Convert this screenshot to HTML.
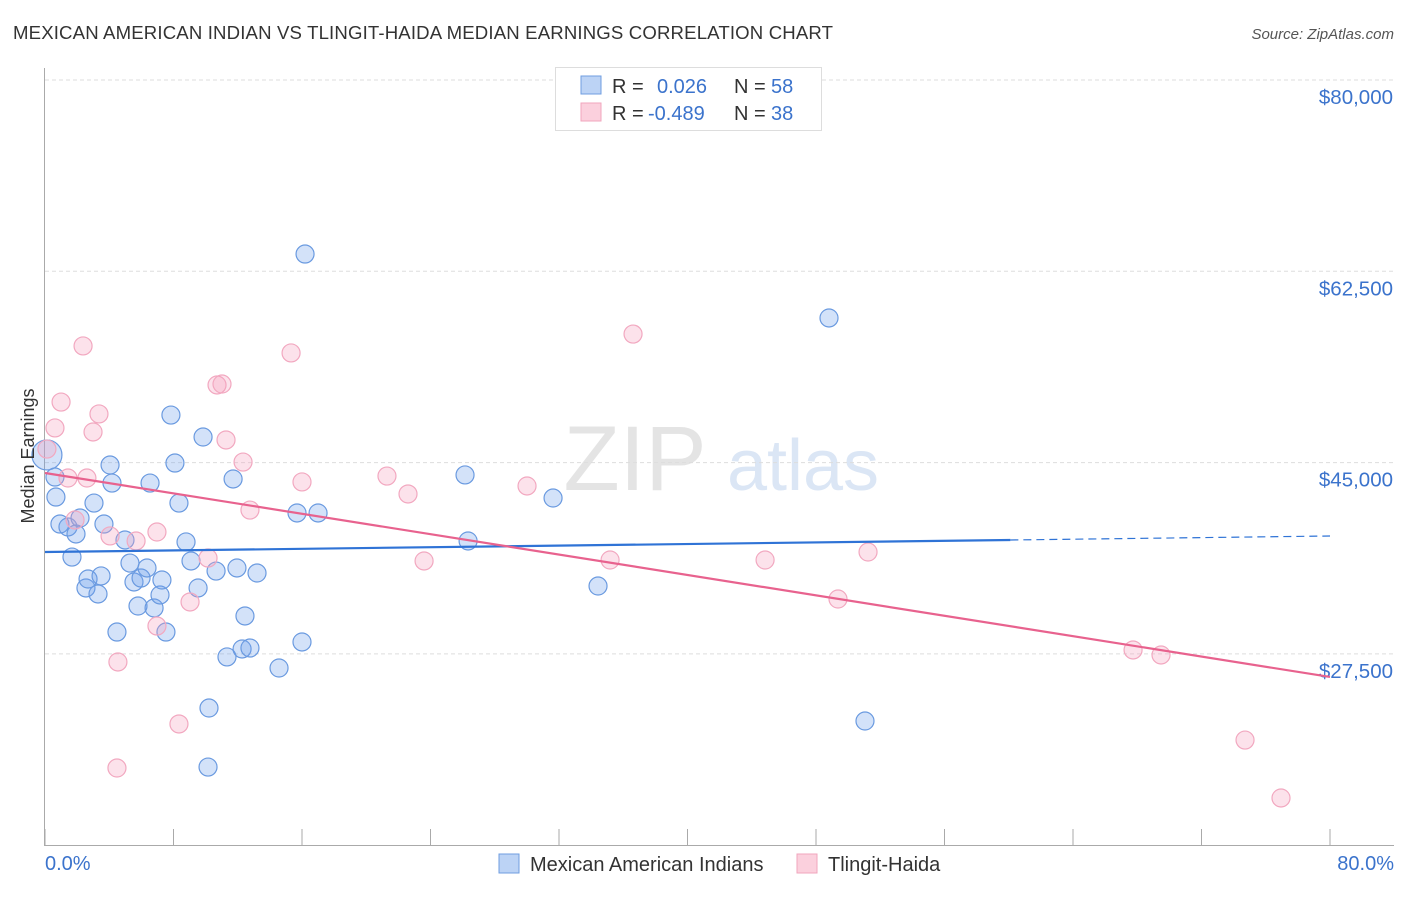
<!DOCTYPE html>
<html><head><meta charset="utf-8"><style>
body{margin:0;background:#fff;font-family:"Liberation Sans",sans-serif;}
svg text{font-family:"Liberation Sans",sans-serif;}
</style></head><body>
<svg width="1406" height="892" id="c">
<text x="13" y="39" font-size="18.6" fill="#333" textLength="820">MEXICAN AMERICAN INDIAN VS TLINGIT-HAIDA MEDIAN EARNINGS CORRELATION CHART</text>
<text x="1394" y="39" font-size="15" fill="#555" font-style="italic" text-anchor="end">Source: ZipAtlas.com</text>
<g><text x="635" y="490" font-size="92" fill="#e4e4e4" font-family="Liberation Serif" text-anchor="middle">ZIP</text><text x="803" y="490" font-size="72" fill="#dbe6f5" text-anchor="middle">atlas</text></g>
<g id="grid"></g><g id="axes"></g><g id="pts"></g><g id="lines"></g>
<text x="34" y="456" font-size="18" fill="#333" text-anchor="middle" transform="rotate(-90 34 456)">Median Earnings</text>
<text x="45" y="870" font-size="20" fill="#3b73cc">0.0%</text>
<text x="1394" y="870" font-size="20" fill="#3b73cc" text-anchor="end">80.0%</text>
<g>
<rect x="555.5" y="67.5" width="266" height="63" fill="#fff" stroke="#ddd"/>
<rect x="581" y="76" width="20" height="18" fill="#bcd3f5" stroke="#6f9ee0"/>
<rect x="581" y="103" width="20" height="18" fill="#fbd0dd" stroke="#f0a6bd"/>
<text x="612" y="93" font-size="20" fill="#333">R = <tspan fill="#3b73cc" x="657">0.026</tspan><tspan x="734">N = </tspan><tspan fill="#3b73cc" x="771">58</tspan></text>
<text x="612" y="120" font-size="20" fill="#333">R = <tspan fill="#3b73cc" x="648">-0.489</tspan><tspan x="734">N = </tspan><tspan fill="#3b73cc" x="771">38</tspan></text>
</g>
<g>
<rect x="499" y="854" width="20" height="19" fill="#bcd3f5" stroke="#6f9ee0"/>
<text x="530" y="871" font-size="20" fill="#333">Mexican American Indians</text>
<rect x="797" y="854" width="20" height="19" fill="#fbd0dd" stroke="#f0a6bd"/>
<text x="828" y="871" font-size="20" fill="#333">Tlingit-Haida</text>
</g>
</svg>
<script>
const yTicks=[80000,62500,45000,27500];
const yTickLabels=["$80,000","$62,500","$45,000","$27,500"];
const blueX=[0.12,0.62,0.68,0.93,1.43,1.68,1.93,2.18,2.55,2.68,3.05,3.30,3.49,3.67,4.05,4.17,4.48,4.98,5.29,5.54,5.79,5.98,6.35,6.54,6.79,7.16,7.28,7.53,7.84,8.09,8.34,8.78,9.09,9.53,9.84,10.21,10.15,10.65,11.33,11.71,11.95,12.27,12.45,12.76,13.20,14.57,15.69,16.00,16.19,17.00,26.15,26.34,31.63,34.43,48.81,51.05];
const blueY=[45700,43680,41850,39380,39110,36360,38470,39930,33530,34350,41300,32980,34630,39380,44780,43130,29500,37920,35810,34080,31880,34440,35360,43130,31700,32890,34260,29500,49350,44960,41300,37740,36000,33530,47340,22550,17150,35080,27220,43500,35360,27950,30970,28040,34900,26210,40390,28590,64080,40390,43870,37830,41760,33710,58230,21360];
const pinkX=[0.12,0.62,1.00,1.43,1.87,2.37,2.61,2.99,3.36,4.05,4.54,4.48,5.67,6.97,6.97,8.34,9.03,10.15,10.71,11.02,11.27,12.33,12.76,15.32,16.00,21.29,22.60,23.60,30.01,35.18,36.61,44.83,49.37,51.24,67.74,69.48,74.71,76.95];
const pinkY=[46240,48170,50540,43590,39750,55670,43590,47800,49450,38290,26760,17060,37830,38650,30050,21090,32250,36270,52100,52190,47070,45050,40660,55030,43230,43770,42130,36000,42860,36090,56760,36090,32520,36820,27860,27400,19620,14320];
const blueTrend=[36820,38285];
const pinkTrend=[44050,25390];
const blueSolidEnd=60.1;
const X=p=>45+p*1285/80, Y=v=>80+(80000-v)*191.3/17500;
const NS="http://www.w3.org/2000/svg";
function mk(t,a,parent){const e=document.createElementNS(NS,t);for(const k in a)e.setAttribute(k,a[k]);document.getElementById(parent).appendChild(e);return e;}
yTicks.forEach((v,i)=>{
 const l=mk('line',{x1:45,x2:1394,y1:Y(v),y2:Y(v),stroke:'#ddd','stroke-dasharray':'4,3'},'grid');
 
 
 const t=mk('text',{x:1393,y:Y(v)+24,'font-size':20.5,fill:'#3b73cc','text-anchor':'end'},'grid');
 t.textContent=yTickLabels[i];
 
 
});
const ax=mk('line',{x1:44.5,x2:44.5,y1:68,y2:845,stroke:'#aaa'},'axes');


const bx=mk('line',{x1:44,x2:1394,y1:845.5,y2:845.5,stroke:'#aaa'},'axes');


for(let i=0;i<=10;i++){const t=mk('line',{x1:X(i*8),x2:X(i*8),y1:829,y2:845,stroke:'#aaa'},'axes');
 
 }
blueX.forEach((p,i)=>{const c=mk('circle',{cx:X(p),cy:Y(blueY[i]),r:i==0?15:9,fill:'rgba(110,160,235,0.3)',stroke:'#6a9ae0','stroke-width':1.2},'pts');
 
 });
pinkX.forEach((p,i)=>{const c=mk('circle',{cx:X(p),cy:Y(pinkY[i]),r:9,fill:'rgba(245,160,190,0.3)',stroke:'#f2a8c0','stroke-width':1.2},'pts');
 
 });
const by=p=>blueTrend[0]+(blueTrend[1]-blueTrend[0])*p/80;
const b1=mk('line',{x1:X(0),y1:Y(by(0)),x2:X(blueSolidEnd),y2:Y(by(blueSolidEnd)),stroke:'#2f73d6','stroke-width':2.2},'lines');


const b2=mk('line',{x1:X(blueSolidEnd),y1:Y(by(blueSolidEnd)),x2:X(80),y2:Y(by(80)),stroke:'#2f73d6','stroke-width':1.2,'stroke-dasharray':'8,5'},'lines');


const p1=mk('line',{x1:X(0),y1:Y(pinkTrend[0]),x2:X(80),y2:Y(pinkTrend[1]),stroke:'#e8628e','stroke-width':2.2},'lines');


</script>
</body></html>
